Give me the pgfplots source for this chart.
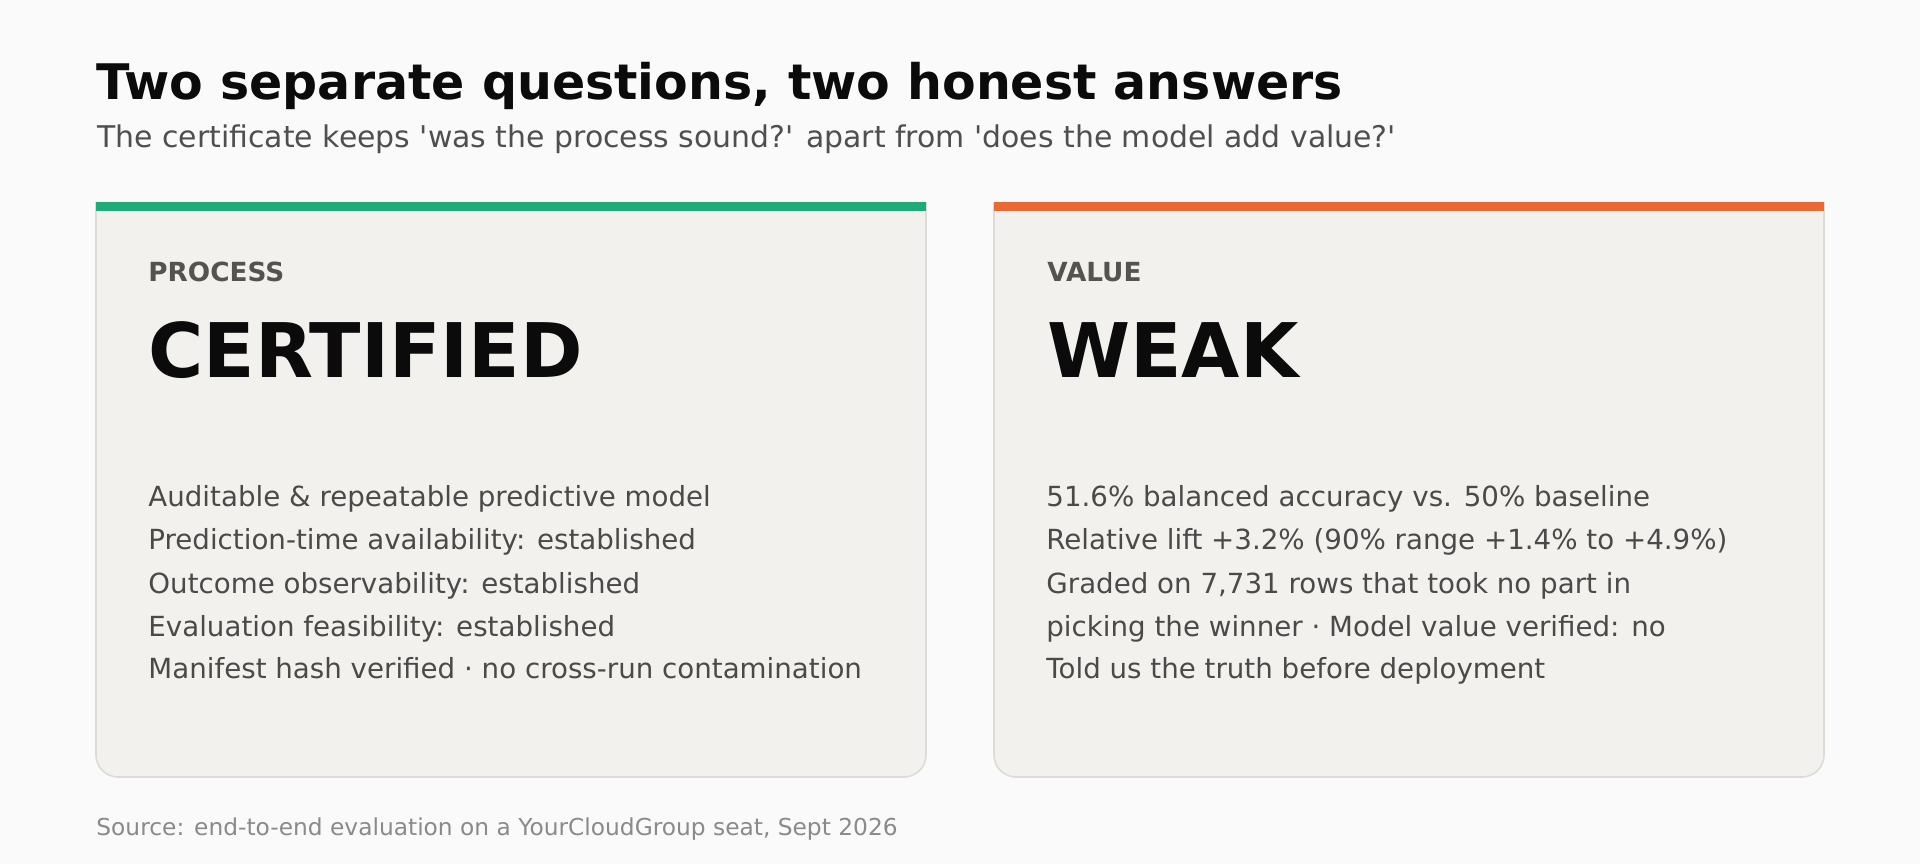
\documentclass[border=0pt]{standalone}
\usepackage{pgfplots}
\pgfplotsset{compat=1.18}
\usepackage{fontspec}
\setmainfont{DejaVu Sans}[Ligatures=TeXOff]

\definecolor{bg}{HTML}{FAFAFA}
\definecolor{cardbg}{HTML}{F2F1ED}
\definecolor{cardedge}{HTML}{DCDBD5}
\definecolor{procgreen}{HTML}{1DAB78}
\definecolor{valorange}{HTML}{EB6935}
\definecolor{titleink}{HTML}{0B0B0B}
\definecolor{subink}{HTML}{4F4F4F}
\definecolor{kickink}{HTML}{55534F}
\definecolor{bodyink}{HTML}{4A4A4A}
\definecolor{srcink}{HTML}{8A8A8A}

% one axis unit = one pixel of the 1920x864 reference
\newcommand{\card}[3]{%
  \fill[rounded corners=11bp, fill=cardbg, draw=cardedge, line width=0.8bp]
    (axis cs:#1,170) rectangle (axis cs:#2,777);
  \fill[bg] (axis cs:#1-4,160) rectangle (axis cs:#2+4,202);
  \fill[#3] (axis cs:#1,202) rectangle (axis cs:#2,211);
}

\begin{document}
\begin{tikzpicture}
\begin{axis}[
  hide axis, scale only axis,
  width=960bp, height=432bp,
  xmin=0, xmax=1920, ymin=0, ymax=864,
  y dir=reverse, clip=false,
  nodes={inner sep=0pt, anchor=base west},
]
\fill[bg] (axis cs:0,0) rectangle (axis cs:1920,864);

\card{96}{926}{procgreen}
\card{994}{1824}{valorange}

\node[text=titleink, font=\fontsize{24.6}{28}\selectfont\bfseries]
  at (axis cs:96,100) {Two separate questions, two honest answers};
\node[text=subink, font=\fontsize{15.0}{18}\selectfont]
  at (axis cs:97,148) {The certificate keeps 'was the process sound?' apart from 'does the model add value?'};

% process card
\node[text=kickink, font=\fontsize{13.2}{16}\selectfont\bfseries]
  at (axis cs:148,281) {PROCESS};
\node[text=titleink, font=\fontsize{37.8}{44}\selectfont\bfseries]
  at (axis cs:148,377) {CERTIFIED};
\begin{scope}[every node/.append style={text=bodyink, font=\fontsize{13.9}{17}\selectfont}]
\node at (axis cs:148,506) {Auditable \& repeatable predictive model};
\node at (axis cs:148,549) {Prediction-time availability: established};
\node at (axis cs:148,593) {Outcome observability: established};
\node at (axis cs:148,636) {Evaluation feasibility: established};
\node at (axis cs:148,678) {Manifest hash verified · no cross-run contamination};
\end{scope}

% value card
\node[text=kickink, font=\fontsize{13.2}{16}\selectfont\bfseries]
  at (axis cs:1047,281) {VALUE};
\node[text=titleink, font=\fontsize{37.8}{44}\selectfont\bfseries]
  at (axis cs:1047,377) {WEAK};
\begin{scope}[every node/.append style={text=bodyink, font=\fontsize{13.9}{17}\selectfont}]
\node at (axis cs:1046,506) {51.6\% balanced accuracy vs. 50\% baseline};
\node at (axis cs:1046,549) {Relative lift +3.2\% (90\% range +1.4\% to +4.9\%)};
\node at (axis cs:1046,593) {Graded on 7,731 rows that took no part in};
\node at (axis cs:1046,636) {picking the winner · Model value verified: no};
\node at (axis cs:1046,678) {Told us the truth before deployment};
\end{scope}

\node[text=srcink, font=\fontsize{11.7}{14}\selectfont]
  at (axis cs:96,835) {Source: end-to-end evaluation on a YourCloudGroup seat, Sept 2026};
\end{axis}
\end{tikzpicture}
\end{document}
